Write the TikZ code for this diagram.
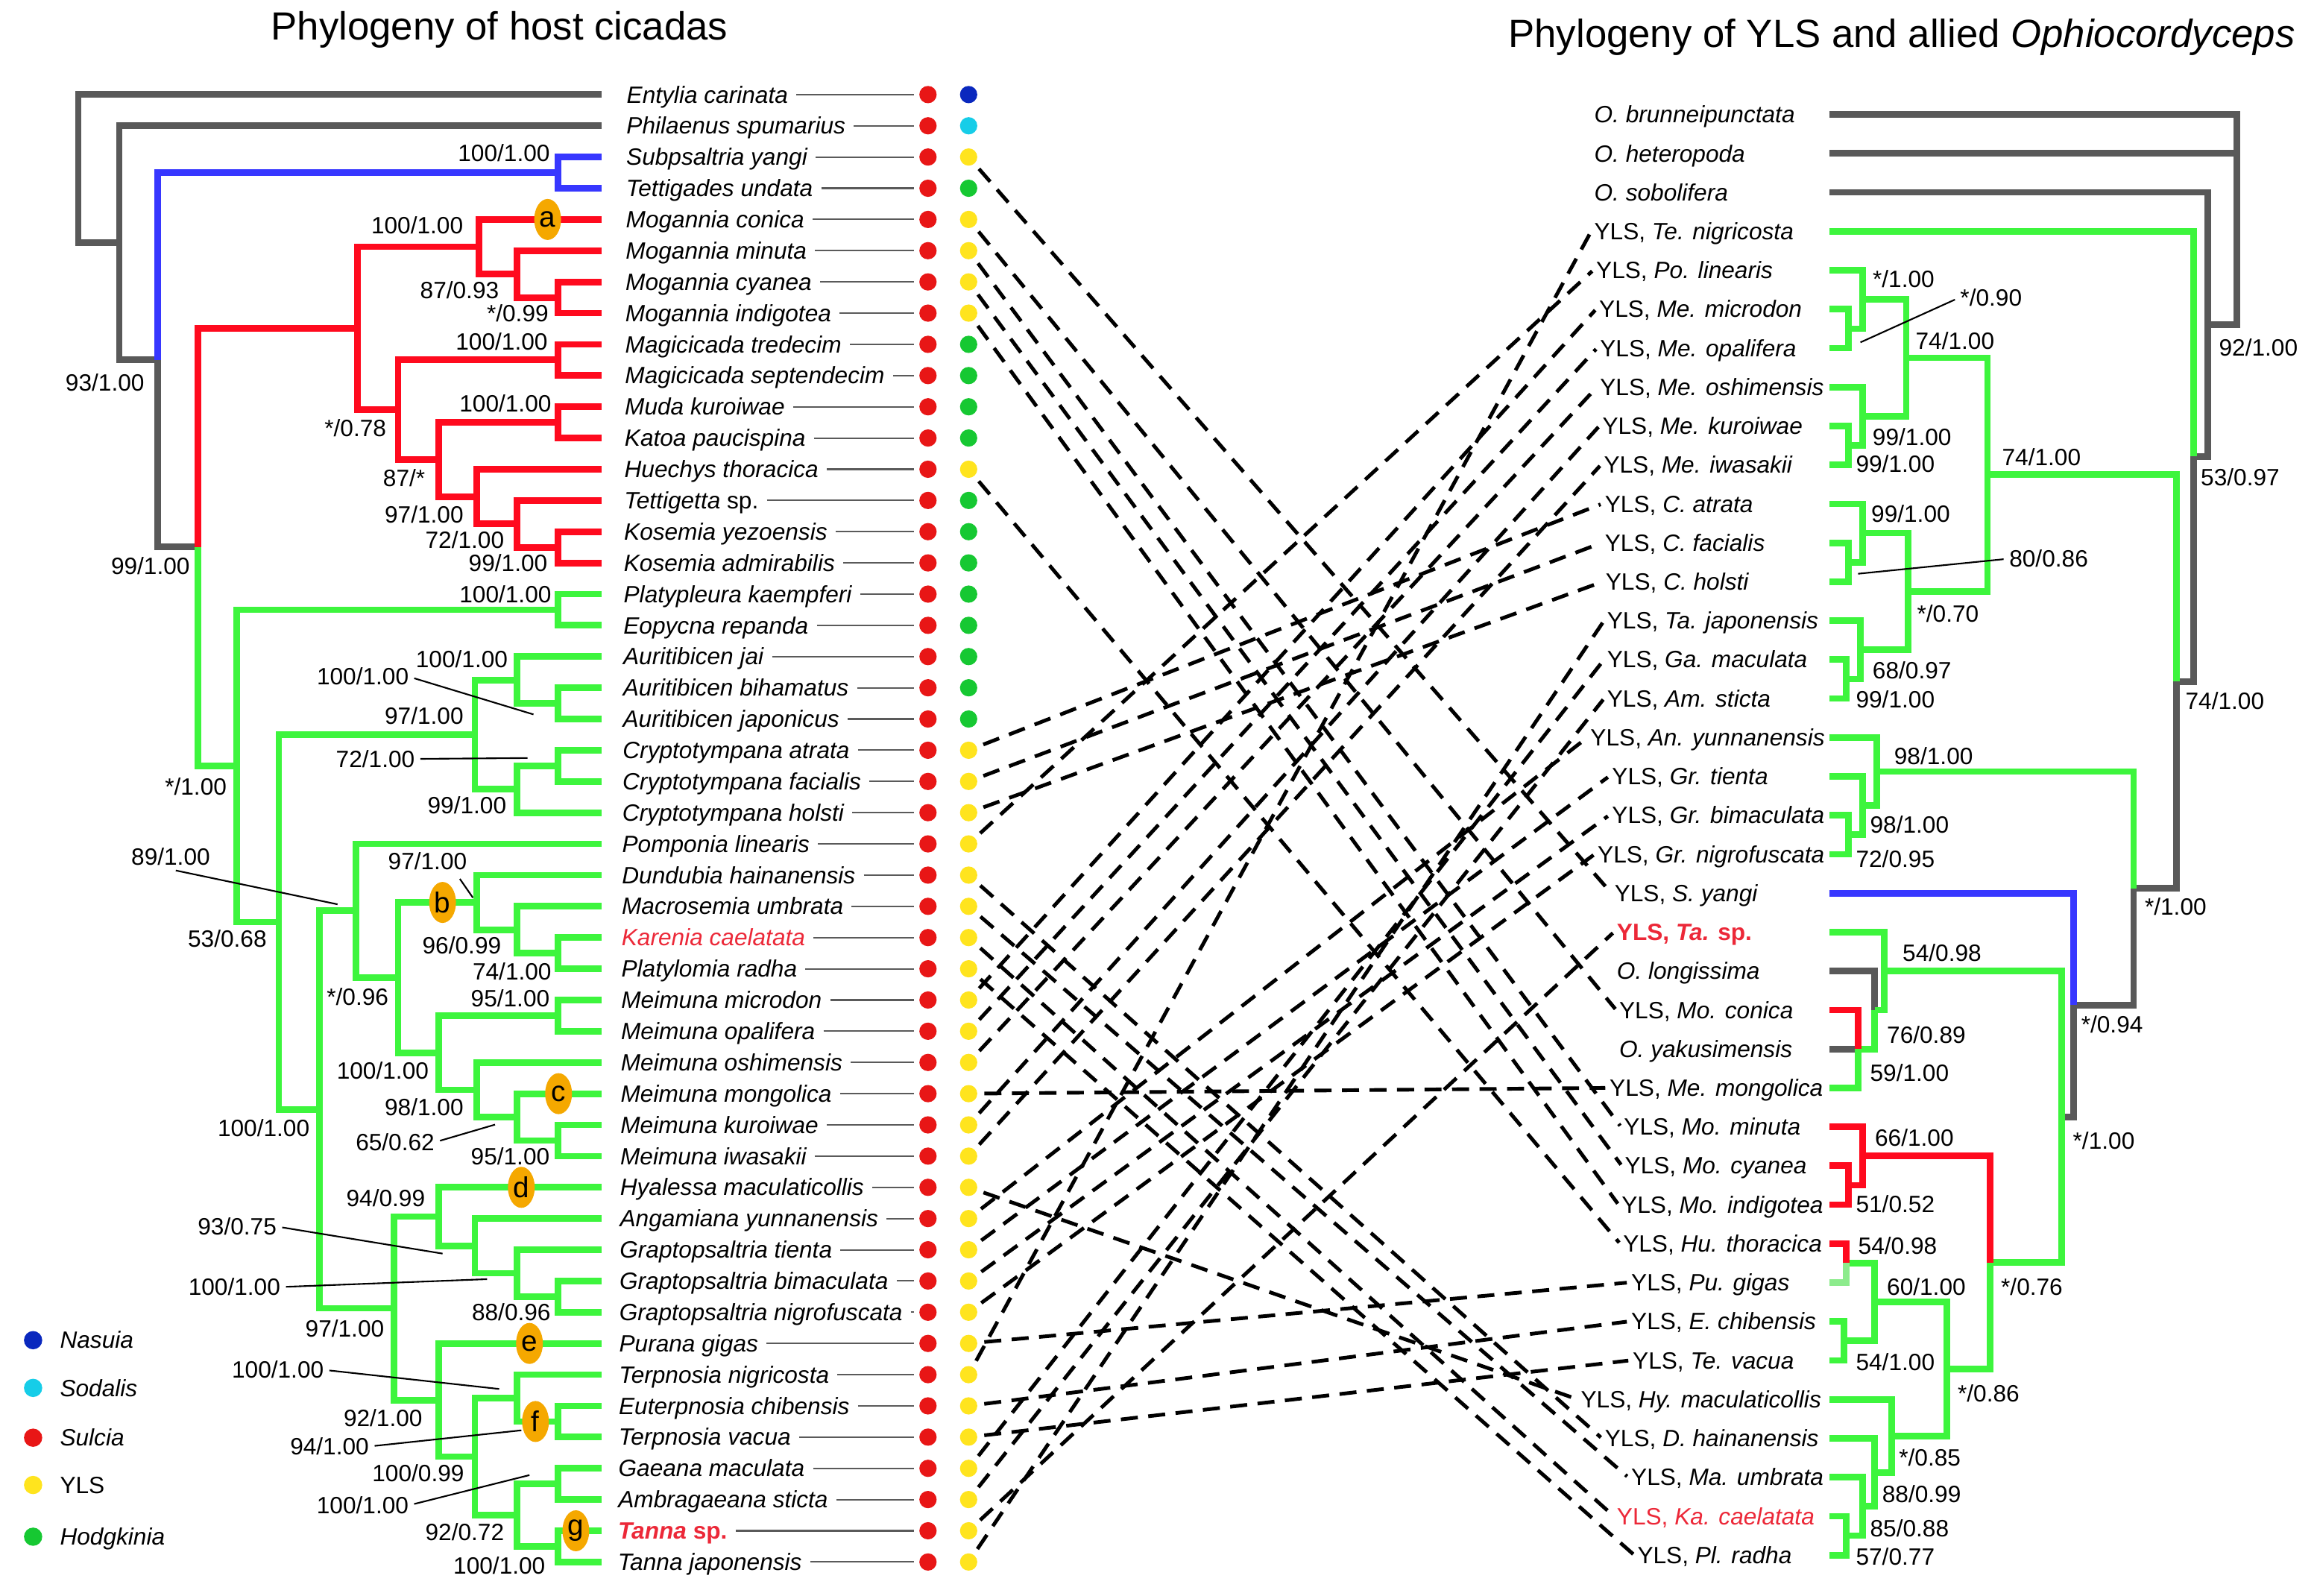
\documentclass[tikz,border=0pt]{standalone}
\usepackage{fontspec}
\setmainfont{Liberation Sans}
\usetikzlibrary{calc,shapes.geometric}

\definecolor{treegray}{RGB}{89,89,89}
\definecolor{treegreen}{RGB}{61,245,61}
\definecolor{treelight}{RGB}{140,235,140}
\definecolor{treered}{RGB}{255,10,30}
\definecolor{treeblue}{RGB}{55,55,255}
\definecolor{leadgray}{RGB}{90,90,90}
\definecolor{sul}{RGB}{232,22,22}
\definecolor{yls}{RGB}{255,228,30}
\definecolor{hod}{RGB}{22,200,50}
\definecolor{nas}{RGB}{10,40,190}
\definecolor{sod}{RGB}{22,205,232}
\definecolor{tagorange}{RGB}{245,168,0}
\definecolor{hl}{RGB}{236,40,56}

\tikzset{
  br/.style={line width=2.5pt},
  taxon/.style={font=\fontsize{9}{11}\selectfont\itshape, inner sep=1pt, anchor=west, text height=1.5ex, text depth=.3ex},
  rtaxon/.style={font=\fontsize{9}{11}\selectfont, inner sep=1pt, anchor=west, text height=1.5ex, text depth=.3ex},
  bs/.style={font=\fontsize{9}{11}\selectfont, inner sep=0pt, text height=1.5ex, text depth=.3ex},
  ptr/.style={line width=0.6pt, shorten <=2pt},
  lead/.style={draw=leadgray, line width=0.6pt, shorten <=2pt, shorten >=1.8pt},
  sym/.style={circle, inner sep=0pt, minimum size=0.232cm},
  link/.style={line width=1.4pt, dash pattern=on 6.5pt off 4pt, shorten <=2.5pt, shorten >=0.5pt},
  cladetag/.style={ellipse, fill=tagorange, inner sep=0pt, minimum width=0.36cm, minimum height=0.55cm, font=\fontsize{11}{12}\selectfont},
  ttl/.style={font=\fontsize{15}{18}\selectfont},
  legtext/.style={font=\fontsize{9}{11}\selectfont, inner sep=1pt, anchor=west, text height=1.5ex, text depth=.3ex}
}

\newcommand\yls[1]{YLS, \textit{#1}}
\newcommand\cladenode[4]{%
  \coordinate (#1m) at ($(#3)!.5!(#4)$);%
  \coordinate (#1) at (#2,0 |- #1m);}

\begin{document}
\begin{tikzpicture}[x=0.019821cm, y=-0.019821cm]
  \fill[white] (0,0) rectangle (1568,1080);
  \useasboundingbox (0,0) rectangle (1568,1080);

  \node[ttl] (ttlL) at (338,20) {Phylogeny of host cicadas};
  \node[ttl] (ttlR) at (1287,25) {Phylogeny of YLS and allied \textit{Ophiocordyceps}};

  \foreach \t/\c [count=\i] in {
    Entylia carinata/nas, Philaenus spumarius/sod, Subpsaltria yangi/yls, Tettigades undata/hod,
    Mogannia conica/yls, Mogannia minuta/yls, Mogannia cyanea/yls, Mogannia indigotea/yls,
    Magicicada tredecim/hod, Magicicada septendecim/hod, Muda kuroiwae/hod, Katoa paucispina/hod,
    Huechys thoracica/yls, Tettigetta \textup{sp.}/hod, Kosemia yezoensis/hod, Kosemia admirabilis/hod,
    Platypleura kaempferi/hod, Eopycna repanda/hod, Auritibicen jai/hod, Auritibicen bihamatus/hod,
    Auritibicen japonicus/hod, Cryptotympana atrata/yls, Cryptotympana facialis/yls, Cryptotympana holsti/yls,
    Pomponia linearis/yls, Dundubia hainanensis/yls, Macrosemia umbrata/yls, {\color{hl}Karenia caelatata}/yls,
    Platylomia radha/yls, Meimuna microdon/yls, Meimuna opalifera/yls, Meimuna oshimensis/yls,
    Meimuna mongolica/yls, Meimuna kuroiwae/yls, Meimuna iwasakii/yls, Hyalessa maculaticollis/yls,
    Angamiana yunnanensis/yls, Graptopsaltria tienta/yls, Graptopsaltria bimaculata/yls, Graptopsaltria nigrofuscata/yls,
    Purana gigas/yls, Terpnosia nigricosta/yls, Euterpnosia chibensis/yls, Terpnosia vacua/yls,
    Gaeana maculata/yls, Ambragaeana sticta/yls, {\color{hl}\bfseries Tanna \textup{sp.}}/yls, Tanna japonensis/yls} {
    \pgfmathsetmacro\yy{64+21.13*(\i-1)}
    \pgfmathsetmacro\xx{422-6*(\i-1)/47}
    \coordinate (l\i) at (407,\yy);
    \node[taxon] (lt\i) at (\xx,\yy) {\t};
    \node[sym, fill=sul] (su\i) at (628,\yy) {};
    \node[sym, fill=\c] (en\i) at (655.5,\yy) {};
    \draw[lead] (lt\i.east) -- (su\i.west);
  }

  \foreach \x/\t [count=\j] in {
    1078.3/\textit{O. brunneipunctata}, 1078.3/\textit{O. heteropoda}, 1078.3/\textit{O. sobolifera},
    1078.3/\yls{Te. nigricosta}, 1079.6/\yls{Po. linearis}, 1081.6/\yls{Me. microdon},
    1082.2/\yls{Me. opalifera}, 1082.2/\yls{Me. oshimensis}, 1083.8/\yls{Me. kuroiwae},
    1084.8/\yls{Me. iwasakii}, 1085.5/\yls{C. atrata}, 1085.5/\yls{C. facialis},
    1086/\yls{C. holsti}, 1087/\yls{Ta. japonensis}, 1087/\yls{Ga. maculata},
    1087/\yls{Am. sticta}, 1075.7/\yls{An. yunnanensis}, 1090.3/\yls{Gr. tienta},
    1090.3/\yls{Gr. bimaculata}, 1080.6/\yls{Gr. nigrofuscata}, 1092/\yls{S. yangi},
    1093.6/{\color{hl}\bfseries\yls{Ta.} sp.}, 1093.6/\textit{O. longissima}, 1095.2/\yls{Mo. conica},
    1095.2/\textit{O. yakusimensis}, 1088.7/\yls{Me. mongolica}, 1098.4/\yls{Mo. minuta},
    1099/\yls{Mo. cyanea}, 1096.8/\yls{Mo. indigotea}, 1097.8/\yls{Hu. thoracica},
    1103.3/\yls{Pu. gigas}, 1103.3/\yls{E. chibensis}, 1104.3/\yls{Te. vacua},
    1069.2/\yls{Hy. maculaticollis}, 1085.5/\yls{D. hainanensis}, 1103.3/\yls{Ma. umbrata},
    1093.6/{\color{hl}\yls{Ka. caelatata}}, 1107.5/\yls{Pl. radha}} {
    \pgfmathsetmacro\yy{77.5+26.35*(\j-1)}
    \coordinate (r\j) at (1238,\yy);
    \node[rtaxon] (rt\j) at (\x-1.5,\yy) {\t};
  }

  % host tree
  \cladenode{lC}{377.5}{l3}{l4}
  \cladenode{lG3}{377.5}{l7}{l8}
  \cladenode{lG2}{350}{l6}{lG3}
  \cladenode{lG}{324}{l5}{lG2}
  \cladenode{lH1}{377.5}{l9}{l10}
  \cladenode{lH3}{377.5}{l11}{l12}
  \cladenode{lH6}{377.5}{l15}{l16}
  \cladenode{lH5}{350}{l14}{lH6}
  \cladenode{lH4}{322.7}{l13}{lH5}
  \cladenode{lH2}{296.7}{lH3}{lH4}
  \cladenode{lH}{269.4}{lH1}{lH2}
  \cladenode{lE}{242}{lG}{lH}
  \cladenode{lI}{377.5}{l17}{l18}
  \cladenode{lK4}{377.5}{l20}{l21}
  \cladenode{lK1}{350}{l19}{lK4}
  \cladenode{lK3}{377.5}{l22}{l23}
  \cladenode{lK2}{350}{lK3}{l24}
  \cladenode{lK}{321.4}{lK1}{lK2}
  \cladenode{lQ2}{377.5}{l28}{l29}
  \cladenode{lQ1}{350}{l27}{lQ2}
  \cladenode{lQ}{322.7}{l26}{lQ1}
  \cladenode{lR1}{377.5}{l30}{l31}
  \cladenode{lR4}{377.5}{l34}{l35}
  \cladenode{lR3}{350}{l33}{lR4}
  \cladenode{lR2}{322.7}{l32}{lR3}
  \cladenode{lR}{296.7}{lR1}{lR2}
  \cladenode{lP}{269.4}{lQ}{lR}
  \cladenode{lN}{240.7}{l25}{lP}
  \cladenode{lS3}{377.5}{l39}{l40}
  \cladenode{lS2}{350}{l38}{lS3}
  \cladenode{lS1}{321.4}{l37}{lS2}
  \cladenode{lS}{296.7}{l36}{lS1}
  \cladenode{lT4}{377.5}{l43}{l44}
  \cladenode{lT2}{350}{l42}{lT4}
  \cladenode{lT5}{377.5}{l45}{l46}
  \cladenode{lT6}{377.5}{l47}{l48}
  \cladenode{lT3}{350}{lT5}{lT6}
  \cladenode{lT1}{321.4}{lT2}{lT3}
  \cladenode{lT}{296.7}{l41}{lT1}
  \cladenode{lO}{266.7}{lS}{lT}
  \cladenode{lM}{216}{lN}{lO}
  \cladenode{lJ}{188.7}{lK}{lM}
  \cladenode{lF}{160}{lI}{lJ}
  \cladenode{lD}{134}{lE}{lF}
  \cladenode{lB}{106.7}{lC}{lD}
  \cladenode{lA}{80.7}{l2}{lB}
  \cladenode{lroot}{53}{l1}{lA}

  \foreach \c/\p in {l1/lroot, lA/lroot, l2/lA, lB/lA, lD/lB}
    \draw[br, treegray] (\c) -| (\p);
  \foreach \c/\p in {lC/lB, l3/lC, l4/lC}
    \draw[br, treeblue] (\c) -| (\p);
  \foreach \c/\p in {lE/lD, lG/lE, lH/lE, l5/lG, lG2/lG, l6/lG2, lG3/lG2, l7/lG3, l8/lG3,
      lH1/lH, lH2/lH, l9/lH1, l10/lH1, lH3/lH2, lH4/lH2, l11/lH3, l12/lH3, l13/lH4,
      lH5/lH4, l14/lH5, lH6/lH5, l15/lH6, l16/lH6}
    \draw[br, treered] (\c) -| (\p);
  \foreach \c/\p in {lF/lD, lI/lF, lJ/lF, l17/lI, l18/lI, lK/lJ, lM/lJ, lK1/lK, lK2/lK,
      l19/lK1, lK4/lK1, l20/lK4, l21/lK4, lK3/lK2, l24/lK2, l22/lK3, l23/lK3, lN/lM, lO/lM,
      l25/lN, lP/lN, lQ/lP, lR/lP, l26/lQ, lQ1/lQ, l27/lQ1, lQ2/lQ1, l28/lQ2, l29/lQ2,
      lR1/lR, lR2/lR, l30/lR1, l31/lR1, l32/lR2, lR3/lR2, l33/lR3, lR4/lR3, l34/lR4, l35/lR4,
      lS/lO, lT/lO, l36/lS, lS1/lS, l37/lS1, lS2/lS1, l38/lS2, lS3/lS2, l39/lS3, l40/lS3,
      l41/lT, lT1/lT, lT2/lT1, lT3/lT1, l42/lT2, lT4/lT2, l43/lT4, l44/lT4,
      lT5/lT3, lT6/lT3, l45/lT5, l46/lT5, l47/lT6, l48/lT6}
    \draw[br, treegreen] (\c) -| (\p);

  % symbiont tree
  \cladenode{rD1c}{1250.9}{r6}{r7}
  \cladenode{rD1a}{1260.6}{r5}{rD1c}
  \cladenode{rD1d}{1250.9}{r9}{r10}
  \cladenode{rD1b}{1260.6}{r8}{rD1d}
  \cladenode{rD1}{1290}{rD1a}{rD1b}
  \cladenode{rD2c}{1250.9}{r12}{r13}
  \cladenode{rD2a}{1260.6}{r11}{rD2c}
  \cladenode{rD2d}{1249.3}{r15}{r16}
  \cladenode{rD2b}{1259}{r14}{rD2d}
  \cladenode{rD2}{1291.4}{rD2a}{rD2b}
  \cladenode{rD}{1345}{rD1}{rD2}
  \cladenode{rF2}{1250.9}{r19}{r20}
  \cladenode{rF1}{1260.6}{r18}{rF2}
  \cladenode{rF}{1270}{r17}{rF1}
  \cladenode{rHt}{1257.4}{r24}{r26}
  \cladenode{rH1a}{1268.7}{r23}{rHt}
  \cladenode{rH1}{1275.2}{r22}{rH1a}
  \cladenode{rI1}{1250.9}{r28}{r29}
  \cladenode{rI}{1260.6}{r27}{rI1}
  \cladenode{rK1}{1249.3}{r30}{r31}
  \cladenode{rK2}{1248}{r32}{r33}
  \cladenode{rK}{1268.7}{rK1}{rK2}
  \cladenode{rL3}{1249.3}{r37}{r38}
  \cladenode{rL2}{1260.6}{r36}{rL3}
  \cladenode{rL1}{1268.7}{r35}{rL2}
  \cladenode{rL}{1280}{r34}{rL1}
  \cladenode{rJ}{1317.4}{rK}{rL}
  \cladenode{rH2}{1346.6}{rI}{rJ}
  \cladenode{rH}{1395.3}{rH1}{rH2}
  \cladenode{rG}{1403.4}{r21}{rH}
  \cladenode{rE}{1443.9}{rF}{rG}
  \cladenode{rC}{1473}{rD}{rE}
  \cladenode{rB}{1484.5}{r4}{rC}
  \cladenode{rA}{1494.2}{r3}{rB}
  \cladenode{rroot}{1513.7}{r1}{rA}

  \draw[br, treegray] (r2) -- (r2 -| rroot);
  \foreach \c/\p in {r1/rroot, rA/rroot, r3/rA, rB/rA, rC/rB, rE/rC, rG/rE, rH/rG, r23/rH1a, r25/rHt}
    \draw[br, treegray] (\c) -| (\p);
  \foreach \c/\p in {r4/rB, rD/rC, rD1/rD, rD2/rD, r5/rD1a, rD1c/rD1a, r6/rD1c, r7/rD1c,
      rD1a/rD1, rD1b/rD1, r8/rD1b, rD1d/rD1b, r9/rD1d, r10/rD1d, rD2a/rD2, rD2b/rD2,
      r11/rD2a, rD2c/rD2a, r12/rD2c, r13/rD2c, r14/rD2b, rD2d/rD2b, r15/rD2d, r16/rD2d,
      rF/rE, r17/rF, rF1/rF, r18/rF1, rF2/rF1, r19/rF2, r20/rF2, rH1/rH, rH2/rH,
      r22/rH1, rH1a/rH1, rHt/rH1a, r26/rHt, rJ/rH2, rK/rJ, rL/rJ, rK1/rK, rK2/rK,
      r32/rK2, r33/rK2, r34/rL, rL1/rL, r35/rL1, rL2/rL1, r36/rL2, rL3/rL2, r37/rL3, r38/rL3}
    \draw[br, treegreen] (\c) -| (\p);
  \draw[br, treelight] (r31) -| (rK1);
  \draw[br, treeblue] (r21) -| (rG);
  \foreach \c/\p in {r24/rHt, rI/rH2, r27/rI, rI1/rI, r28/rI1, r29/rI1, r30/rK1}
    \draw[br, treered] (\c) -| (\p);

  \node[cladetag] (tga) at (370.6,0 |- l5) {a};
  \node[cladetag] (tgb) at (299.5,0 |- lQ) {b};
  \node[cladetag] (tgc) at (378,0 |- l33) {c};
  \node[cladetag] (tgd) at (352.8,0 |- l36) {d};
  \node[cladetag] (tge) at (358.3,0 |- l41) {e};
  \node[cladetag] (tgf) at (362.4,0 |- lT4) {f};
  \node[cladetag] (tgg) at (389.7,0 |- l47) {g};

  \foreach \n/\x/\y/\t in {C/341/103.5/{100/1.00}, G/282.3/152.4/{100/1.00}, G2/311/196.3/{87/0.93},
      G3/350.3/212/{*/0.99}, H1/339.5/231.2/{100/1.00}, H/240.5/289.7/{*/0.78},
      H3/342/272.9/{100/1.00}, H2/273.5/323.5/{87/*}, H4/287/348.3/{97/1.00},
      H5/314.5/365.2/{72/1.00}, H6/343.8/381/{99/1.00}, B/71/259/{93/1.00},
      D/101.8/383.2/{99/1.00}, I/342/402.4/{100/1.00}, F/132.5/532.2/{*/1.00},
      K1/312.5/446.4/{100/1.00}, K4/245.5/458/{100/1.00}, K/287/484.7/{97/1.00},
      K3/254/513.6/{72/1.00}, K2/316/545/{99/1.00}, J/153.8/635.3/{53/0.68},
      N/115.5/579.6/{89/1.00}, Q/289.3/583.1/{97/1.00}, Q1/312.5/639.9/{96/0.99},
      Q2/346.5/657.3/{74/1.00}, P/242/674.6/{*/0.96}, R1/345.3/675.8/{95/1.00},
      R/259/724.5/{100/1.00}, R2/287/749.2/{98/1.00}, M/178.4/763.3/{100/1.00},
      R3/267.4/773/{65/0.62}, R4/345.3/782.7/{95/1.00}, S/261/810.7/{94/0.99},
      S1/160.5/830.1/{93/0.75}, S2/158.6/871/{100/1.00}, S3/346/888.3/{88/0.96},
      O/233.3/899.1/{97/1.00}, T2/188/927.1/{100/1.00}, T/259.2/959.5/{92/1.00},
      T4/223/978.9/{94/1.00}, T1/283/997.2/{100/0.99}, T5/245.4/1018.7/{100/1.00},
      T3/314.5/1037.1/{92/0.72}, T6/337.9/1059.7/{100/1.00}}
    \node[bs] (bl\n) at (\x,\y) {\t};

  \foreach \n/\x/\y/\t in {A/1528.3/235.1/{92/1.00}, D1a/1288.2/189/{*/1.00}, D1c/1347.4/201.3/{*/0.90},
      D1/1323/230.6/{74/1.00}, D1b/1293.9/295.9/{99/1.00}, D1d/1282.6/313.9/{99/1.00},
      D/1381.5/309.4/{74/1.00}, B/1516/323/{53/0.97}, D2a/1293/347.7/{99/1.00},
      D2c/1386.4/378.1/{80/0.86}, D2/1318.2/415.5/{*/0.70}, D2b/1293.9/453.7/{68/0.97},
      D2d/1282.6/473.4/{99/1.00}, C/1505.6/474.6/{74/1.00}, F/1308.5/511.7/{98/1.00},
      F1/1292.2/558/{98/1.00}, F2/1282.6/581.2/{72/0.95}, E/1472.3/613.6/{*/1.00},
      H1/1314.2/644.9/{54/0.98}, G/1429.3/693.5/{*/0.94}, H1a/1303.6/700.5/{76/0.89},
      Ht/1292.2/726/{59/1.00}, H/1423.7/772.2/{*/1.00}, I/1295.5/770.1/{66/1.00},
      I1/1282.6/814.7/{51/0.52}, K1/1284.2/843.3/{54/0.98}, H2/1375/871/{*/0.76},
      K/1303.6/871/{60/1.00}, K2/1282.6/921.9/{54/1.00}, J/1345.7/943.2/{*/0.86},
      L/1306/986.7/{*/0.85}, L1/1300.4/1011.1/{88/0.99}, L2/1292.2/1034.5/{85/0.88},
      L3/1282.6/1053.6/{57/0.77}}
    \node[bs] (br\n) at (\x,\y) {\t};

  \coordinate (pK4) at (361,483.5);
  \coordinate (pK3) at (357,513);
  \coordinate (pN) at (228.4,612);
  \coordinate (pQ) at (320,607.5);
  \coordinate (pR3) at (335,761.1);
  \coordinate (pS1) at (299.5,848.4);
  \coordinate (pS2) at (329.6,865.7);
  \coordinate (pT2) at (337.8,940);
  \coordinate (pT4) at (352.8,968);
  \coordinate (pT5) at (358.3,998.3);
  \coordinate (pD1c) at (1259,231.7);
  \coordinate (pD2c) at (1257.4,388.3);
  \foreach \n in {K4, K3, R3, S1, S2, T2, T4, T5}
    \draw[ptr] (bl\n.east) -- (p\n);
  \draw[ptr] (blN.south) -- (pN);
  \draw[ptr] ([xshift=-4pt]blQ.south east) -- (pQ);
  \draw[ptr] (brD1c.west) -- (pD1c);
  \draw[ptr] (brD2c.west) -- (pD2c);

  \foreach \i/\j in {3/21, 5/24, 6/27, 7/28, 8/29, 13/30, 22/11, 23/12, 24/13, 25/5,
      26/35, 27/36, 28/37, 29/38, 30/6, 31/7, 32/8, 33/26, 34/9, 35/10, 36/34, 37/17,
      38/18, 39/19, 40/20, 41/31, 42/4, 43/32, 44/33, 45/15, 46/16, 47/22, 48/14}
    \draw[link] (en\i) -- (rt\j.west);

  \foreach \t/\c/\y [count=\k] in {\textit{Nasuia}/nas/907, \textit{Sodalis}/sod/939.3,
      \textit{Sulcia}/sul/973, YLS/yls/1005, \textit{Hodgkinia}/hod/1040} {
    \node[sym, minimum size=0.245cm, fill=\c] (lg\k) at (22.4,\y) {};
    \node[legtext] (lgt\k) at (38.5,\y) {\t};
  }
\end{tikzpicture}
\end{document}
